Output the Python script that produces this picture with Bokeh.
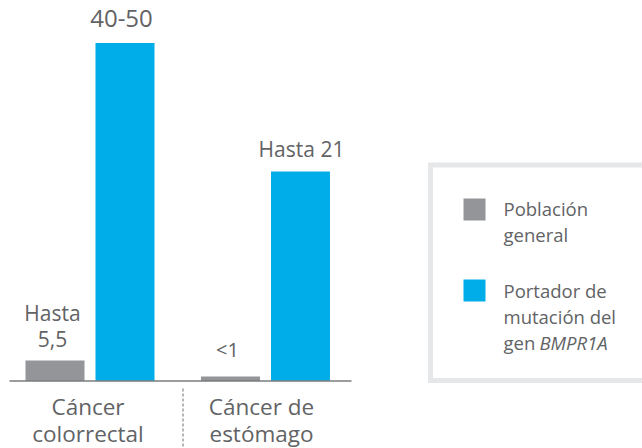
from bokeh.plotting import figure
from bokeh.models import Range1d, ColumnDataSource
from bokeh.core.properties import value
from bokeh.embed import file_html
from bokeh.resources import INLINE

# ---------------- data ----------------
categories = ["Cáncer colorrectal", "Cáncer de estómago"]
category_lines = [["Cáncer", "colorrectal"], ["Cáncer de", "estómago"]]
series_names = ["Población general", "Portador de mutación del gen BMPR1A"]
# bar heights as drawn (not to scale with the printed values)
general_heights = [2.05, 0.45]
carrier_heights = [33.8, 20.95]
general_labels = [["Hasta", "5,5"], ["<1"]]
carrier_labels = [["40-50"], ["Hasta 21"]]

# ---------------- style ----------------
FONT = "Open Sans"
GRAY = "#939598"
BLUE = "#00ade8"
TEXT = "#626365"
BORDER = "#e6e7e8"
BASE_K = 0.388  # alphabetic baseline correction (fraction of font size)

W, H = 642, 448
PX_X = 175.5   # pixels per category unit
PX_Y = 10.0    # pixels per height unit
X0 = 89.5      # page x of first category centre
Y0 = 380.5     # page y of the baseline


def X(px):
    return (px - X0) / PX_X


def Y(py):
    return (Y0 - py) / PX_Y


p = figure(width=W, height=H, output_backend="svg", toolbar_location=None,
           x_range=Range1d(X(0), X(W)), y_range=Range1d(Y(H), Y(0)),
           min_border=0, outline_line_color=None)
p.axis.visible = False
p.grid.visible = False
p.background_fill_color = "white"
p.border_fill_color = "white"

dodge = 35 / PX_X
bar_w = 59 / PX_X
idx = list(range(len(categories)))

src_g = ColumnDataSource(dict(x=[i - dodge for i in idx], top=general_heights))
src_c = ColumnDataSource(dict(x=[i + dodge for i in idx], top=carrier_heights))
p.vbar(x="x", top="top", bottom=0, width=bar_w, source=src_g,
       fill_color=GRAY, line_color=None)
p.vbar(x="x", top="top", bottom=0, width=bar_w, source=src_c,
       fill_color=BLUE, line_color=None)

# baseline
p.line(x=[X(9), X(351)], y=[0, 0], line_color="#7a7b7e", line_width=1.5)
# separator
p.line(x=[X(182.5), X(182.5)], y=[Y(388), Y(450)], line_color="#6d6e71",
       line_width=1, line_dash="3 2")


def txt(x, y, t, fs, x_off=0.0, y_off=0.0, align="center", style="normal"):
    p.text(x=[x], y=[y], text=[t], x_offset=x_off,
           y_offset=y_off - BASE_K * fs,
           text_font=value(FONT), text_font_size=f"{fs}px",
           text_font_style=style, text_color=TEXT, text_align=align,
           text_baseline="alphabetic")


# value labels above bars
gaps_g = [13, 19]
gaps_c = [15, 14]
shift_g = [-2.5, -3]
shift_c = [-3.5, 1]
sizes_g = [21, 20]
sizes_c = [24, 21]
line_h = 26
for i in idx:
    for heights, labels, gaps, shifts, sizes, sgn in (
            (general_heights, general_labels, gaps_g, shift_g, sizes_g, -1),
            (carrier_heights, carrier_labels, gaps_c, shift_c, sizes_c, 1)):
        lines = labels[i]
        n = len(lines)
        for k, t in enumerate(lines):
            off = gaps[i] + (n - 1 - k) * line_h
            txt(i + sgn * dodge, heights[i], t, sizes[i],
                x_off=shifts[i], y_off=-off)

# category labels
cat_shift = [-2, -4]
for i in idx:
    for k, t in enumerate(category_lines[i]):
        txt(i, 0, t, 22.5, x_off=cat_shift[i],
            y_off=(414.3 - Y0) + k * 27.5)

# legend box
p.quad(left=[X(430)], right=[X(700)], top=[Y(164.5)], bottom=[Y(380)],
       fill_color=None, line_color=BORDER, line_width=5, line_join="miter")
p.quad(left=[X(463)], right=[X(485)], top=[Y(198)], bottom=[Y(220)],
       fill_color=GRAY, line_color=None)
p.quad(left=[X(463)], right=[X(485)], top=[Y(279)], bottom=[Y(301)],
       fill_color=BLUE, line_color=None)

legend_lines = [("Población", 215), ("general", 241),
                ("Portador de", 297), ("mutación del", 323), ("gen", 349)]
for t, by in legend_lines:
    txt(X(503), Y(by), t, 18.5, align="left")
txt(X(539), Y(349), "BMPR1A", 18.5, align="left", style="italic")

open("out.html", "w").write(file_html(p, INLINE))
